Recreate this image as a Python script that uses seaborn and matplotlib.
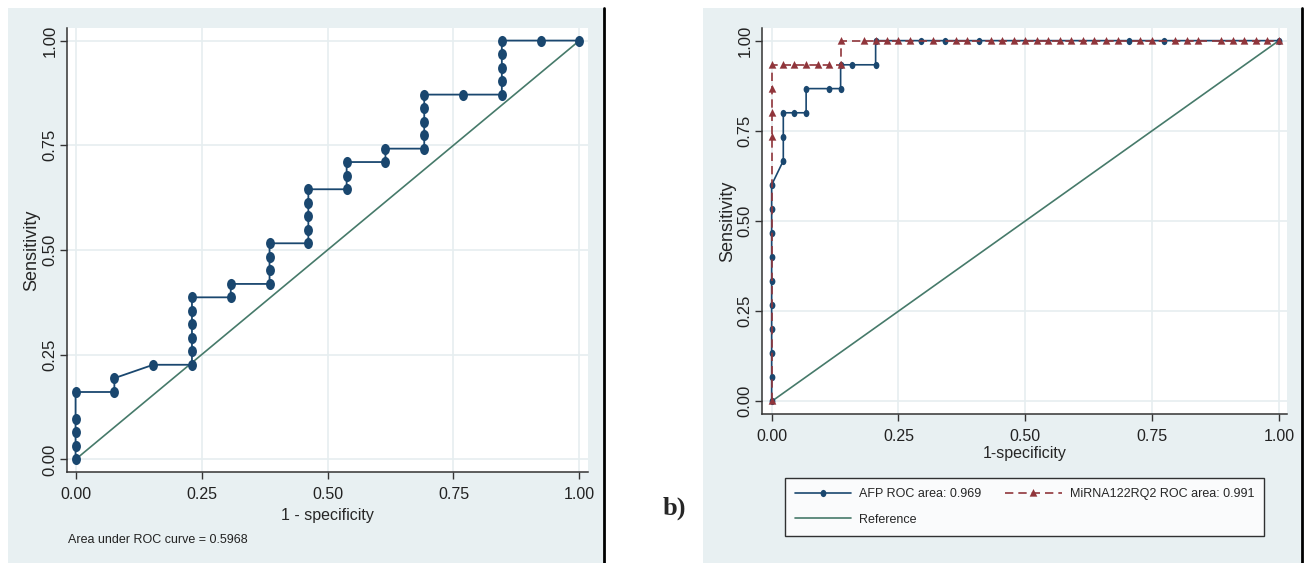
import numpy as np
import pandas as pd
import matplotlib
matplotlib.use("Agg")
import matplotlib.pyplot as plt
from matplotlib.patches import Rectangle
from matplotlib.lines import Line2D
from matplotlib.path import Path
import seaborn as sns

# ---- data ----
# panel a: single ROC curve (1 - specificity, sensitivity)
roc_fpr = [0.0, 0.0, 0.0, 0.0, 0.0, 0.077, 0.077, 0.154,
           0.231, 0.231, 0.231, 0.231, 0.231, 0.231,
           0.308, 0.308, 0.385, 0.385, 0.385, 0.385,
           0.462, 0.462, 0.462, 0.462, 0.462,
           0.538, 0.538, 0.538, 0.615, 0.615,
           0.692, 0.692, 0.692, 0.692, 0.692, 0.769,
           0.846, 0.846, 0.846, 0.846, 0.846, 0.923, 1.0]
roc_tpr = [0.0, 0.032, 0.065, 0.097, 0.161, 0.161, 0.194, 0.226,
           0.226, 0.258, 0.290, 0.323, 0.355, 0.387,
           0.387, 0.419, 0.419, 0.452, 0.484, 0.516,
           0.516, 0.548, 0.581, 0.613, 0.645,
           0.645, 0.677, 0.710, 0.710, 0.742,
           0.742, 0.774, 0.806, 0.839, 0.871, 0.871,
           0.871, 0.903, 0.935, 0.968, 1.0, 1.0, 1.0]
auc_text = "Area under ROC curve = 0.5968"

# panel b: AFP vs MiRNA122RQ2
afp_fpr = [0.0, 0.0, 0.0, 0.0, 0.0, 0.0, 0.0, 0.0, 0.0, 0.0,
           0.023, 0.023, 0.023, 0.045, 0.068, 0.068,
           0.114, 0.136, 0.136, 0.159, 0.205, 0.205,
           0.295, 0.341, 0.409, 0.705, 0.773, 1.0]
afp_tpr = [0.0, 0.067, 0.133, 0.2, 0.267, 0.333, 0.4, 0.467, 0.533, 0.6,
           0.667, 0.733, 0.8, 0.8, 0.8, 0.867,
           0.867, 0.867, 0.933, 0.933, 0.933, 1.0,
           1.0, 1.0, 1.0, 1.0, 1.0, 1.0]
mir_fpr = [0.0, 0.0, 0.0, 0.0, 0.0,
           0.023, 0.045, 0.068, 0.091, 0.114, 0.136,
           0.136, 0.182, 0.205, 0.227, 0.250, 0.273, 0.318, 0.364, 0.386,
           0.432, 0.455, 0.477, 0.500, 0.523, 0.545, 0.568, 0.591, 0.614,
           0.636, 0.659, 0.682, 0.727, 0.750, 0.795, 0.818, 0.841,
           0.886, 0.909, 0.932, 0.955, 0.977, 1.0]
mir_tpr = [0.0, 0.733, 0.8, 0.867, 0.933,
           0.933, 0.933, 0.933, 0.933, 0.933, 0.933,
           1.0, 1.0, 1.0, 1.0, 1.0, 1.0, 1.0, 1.0, 1.0,
           1.0, 1.0, 1.0, 1.0, 1.0, 1.0, 1.0, 1.0, 1.0,
           1.0, 1.0, 1.0, 1.0, 1.0, 1.0, 1.0, 1.0,
           1.0, 1.0, 1.0, 1.0, 1.0, 1.0]
ref_line = [0.0, 1.0]
afp_label = "AFP ROC area: 0.969"
mir_label = "MiRNA122RQ2 ROC area: 0.991"
ticks = [0.0, 0.25, 0.5, 0.75, 1.0]

# ---- style ----
sns.set_theme(style="white")
plt.rcParams['font.family'] = ['Liberation Sans', 'DejaVu Sans']

NAVY = "#1a476f"
MAROON = "#90353b"
REFCOL = "#467a6a"
BG = "#e8f0f2"
GRID = "#e6eef0"
W, H = 1309, 563

# the source picture is squeezed sideways, so the markers are a bit tall
circ = Path.unit_circle()
DOT = Path(circ.vertices * [0.8, 1.0], circ.codes)
TRI = Path([(0, 1), (-0.85, -0.7), (0.85, -0.7), (0, 1)],
           [Path.MOVETO, Path.LINETO, Path.LINETO, Path.CLOSEPOLY])

fig = plt.figure(figsize=(W / 100, H / 100), dpi=100)
fig.patch.set_facecolor("white")

def px_box(x0, y0, x1, y1):
    return [x0 / W, 1 - y1 / H, (x1 - x0) / W, (y1 - y0) / H]

# panel backgrounds and right-hand black rules
for x0, x1 in [(8, 604), (703, 1302)]:
    fig.patches.append(Rectangle((x0 / W, 0), (x1 - x0) / W, 1 - 8 / H,
                                 transform=fig.transFigure, facecolor=BG,
                                 edgecolor="none", zorder=-10))
    fig.add_artist(Line2D([x1 / W, x1 / W], [0, 1 - 8 / H],
                          transform=fig.transFigure, color="black", lw=2,
                          zorder=-5))

def style_axes(ax, xlim, ylim):
    ax.set_facecolor("white")
    ax.set_xlim(*xlim)
    ax.set_ylim(*ylim)
    ax.set_xticks(ticks)
    ax.set_yticks(ticks)
    ax.set_xticklabels([f"{t:.2f}" for t in ticks], fontsize=11.5)
    ax.set_yticklabels([f"{t:.2f}" for t in ticks], fontsize=12,
                       rotation=90, va="center")
    ax.grid(True, color=GRID, lw=1.2)
    ax.set_axisbelow(True)
    for s in ["top", "right"]:
        ax.spines[s].set_visible(False)
    for s in ["left", "bottom"]:
        ax.spines[s].set_color("#333333")
        ax.spines[s].set_linewidth(1.1)
    ax.tick_params(axis="both", direction="out", length=5, width=1,
                   color="#333333", labelcolor="#222222",
                   left=True, bottom=True)
    ax.tick_params(axis="x", pad=6)
    ax.tick_params(axis="y", pad=2)

# ---- panel a ----
ax1 = fig.add_axes(px_box(67, 28, 588, 472))
sns.lineplot(x=ref_line, y=ref_line, ax=ax1, color=REFCOL, lw=1.2,
             estimator=None, sort=False)
sns.lineplot(x=roc_fpr, y=roc_tpr, ax=ax1, color=NAVY, lw=1.3,
             estimator=None, sort=False, marker=DOT, markersize=8,
             markeredgecolor=NAVY, markeredgewidth=0)
style_axes(ax1, (-0.017, 1.017), (-0.03, 1.03))
ax1.set_xlabel("1 - specificity", fontsize=11.5, labelpad=4)
ax1.set_ylabel("Sensitivity", fontsize=13, labelpad=1.5)
fig.text(68 / W, 1 - 540 / H, auc_text, fontsize=9, va="center",
         ha="left", color="#222222")

# ---- panel b ----
ax2 = fig.add_axes(px_box(762, 28, 1287, 414))
sns.lineplot(x=ref_line, y=ref_line, ax=ax2, color=REFCOL, lw=1.2,
             estimator=None, sort=False)
sns.lineplot(x=afp_fpr, y=afp_tpr, ax=ax2, color=NAVY, lw=1.2,
             estimator=None, sort=False, marker=DOT, markersize=5.2,
             markeredgecolor=NAVY, markeredgewidth=0)
sns.lineplot(x=mir_fpr, y=mir_tpr, ax=ax2, color=MAROON, lw=1.2,
             estimator=None, sort=False, marker=TRI, markersize=6.5,
             markeredgecolor=MAROON, markeredgewidth=0,
             linestyle=(0, (5, 3)))
style_axes(ax2, (-0.019, 1.016), (-0.035, 1.035))
ax2.set_xlabel("1-specificity", fontsize=11.5, labelpad=1.5)
ax2.set_ylabel("Sensitivity", fontsize=13, labelpad=1)

h_afp = Line2D([], [], color=NAVY, lw=1.2, marker=DOT, markersize=5.2,
               markeredgewidth=0)
h_mir = Line2D([], [], color=MAROON, lw=1.2, marker=TRI, markersize=6.5,
               markeredgewidth=0, linestyle=(0, (5, 3)))
h_ref = Line2D([], [], color=REFCOL, lw=1.2)
leg = ax2.legend([h_afp, h_ref, h_mir], [afp_label, "Reference", mir_label],
                 ncol=2, fontsize=9, frameon=True, fancybox=False,
                 loc="center", bbox_to_anchor=(1024.5 / W, 1 - 507 / H),
                 bbox_transform=fig.transFigure, handlelength=4.5,
                 handletextpad=0.65, numpoints=1, columnspacing=1.9,
                 borderpad=0.8, labelspacing=1.05)
leg.get_frame().set_edgecolor("black")
leg.get_frame().set_linewidth(1.0)
leg.get_frame().set_facecolor("white")

fig.text(663 / W, 1 - 508 / H, "b)", fontsize=19, fontweight="bold",
         family="Liberation Serif", va="center", ha="left")

fig.savefig("out.png", dpi=100, facecolor=fig.get_facecolor())
